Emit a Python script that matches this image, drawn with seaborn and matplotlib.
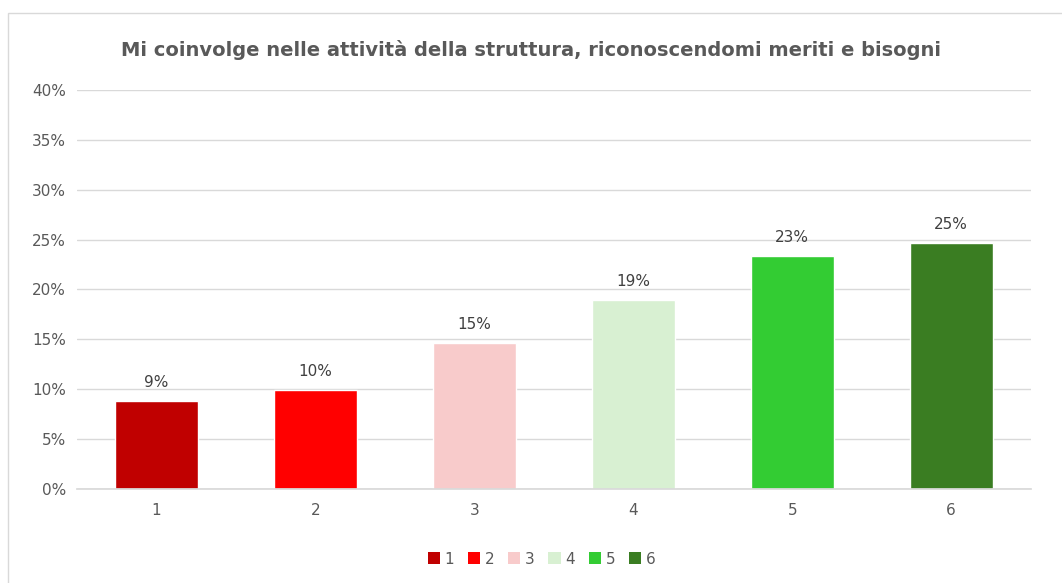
import matplotlib
matplotlib.use("Agg")
import matplotlib.pyplot as plt
import seaborn as sns
import pandas as pd
from matplotlib.patches import Patch, Rectangle
from matplotlib.ticker import FuncFormatter

categories = ["1", "2", "3", "4", "5", "6"]
values = [0.088, 0.099, 0.146, 0.189, 0.234, 0.247]
labels = ["9%", "10%", "15%", "19%", "23%", "25%"]
colors = ["#C00000", "#FF0000", "#F8CBCB", "#D8F0D2", "#33CC33", "#3A7D22"]
title = "Mi coinvolge nelle attività della struttura, riconoscendomi meriti e bisogni"

sns.set_theme(style="white")
fam = ["DejaVu Sans"]
plt.rcParams["font.family"] = fam

df = pd.DataFrame({"cat": categories, "val": values})
fig = plt.figure(figsize=(10.62, 5.83), dpi=100)
ax = fig.add_axes([0.0725, 0.161, 0.898, 0.685])
sns.barplot(data=df, x="cat", y="val", hue="cat", palette=colors, legend=False,
            width=0.52, ax=ax, saturation=1)

ax.set_ylim(0, 0.40)
ax.set_yticks([i * 0.05 for i in range(9)])
ax.yaxis.set_major_formatter(FuncFormatter(lambda v, p: f"{int(round(v*100))}%"))
ax.grid(axis="y", color="#D9D9D9", linewidth=1)
ax.set_axisbelow(True)
for s in ["top", "right", "left"]:
    ax.spines[s].set_visible(False)
ax.spines["bottom"].set_color("#D9D9D9")
ax.set_xlabel("")
ax.set_ylabel("")
ax.tick_params(axis="both", colors="#595959", labelsize=11, length=0)
ax.tick_params(axis="x", pad=10)
ax.tick_params(axis="y", pad=8)

for i, (v, lab) in enumerate(zip(values, labels)):
    ax.text(i, v + 0.011, lab, ha="center", va="bottom", fontsize=11, color="#404040")

fig.text(0.5, 0.915, title, ha="center", va="center", fontsize=14,
         fontweight="bold", color="#595959")

handles = [Patch(facecolor=c, edgecolor="none", label=l) for c, l in zip(colors, categories)]
leg = fig.legend(handles=handles, loc="center", bbox_to_anchor=(0.51, 0.041), ncol=6,
                 frameon=False, fontsize=11, handlelength=0.8, handleheight=0.8,
                 handletextpad=0.3, columnspacing=0.9)
for t in leg.get_texts():
    t.set_color("#595959")

fig.patches.append(Rectangle((0.0075, -0.01), 1.1, 0.988, transform=fig.transFigure,
                             fill=False, edgecolor="#D9D9D9", linewidth=1))

fig.savefig("out.png", dpi=100, facecolor="white")
